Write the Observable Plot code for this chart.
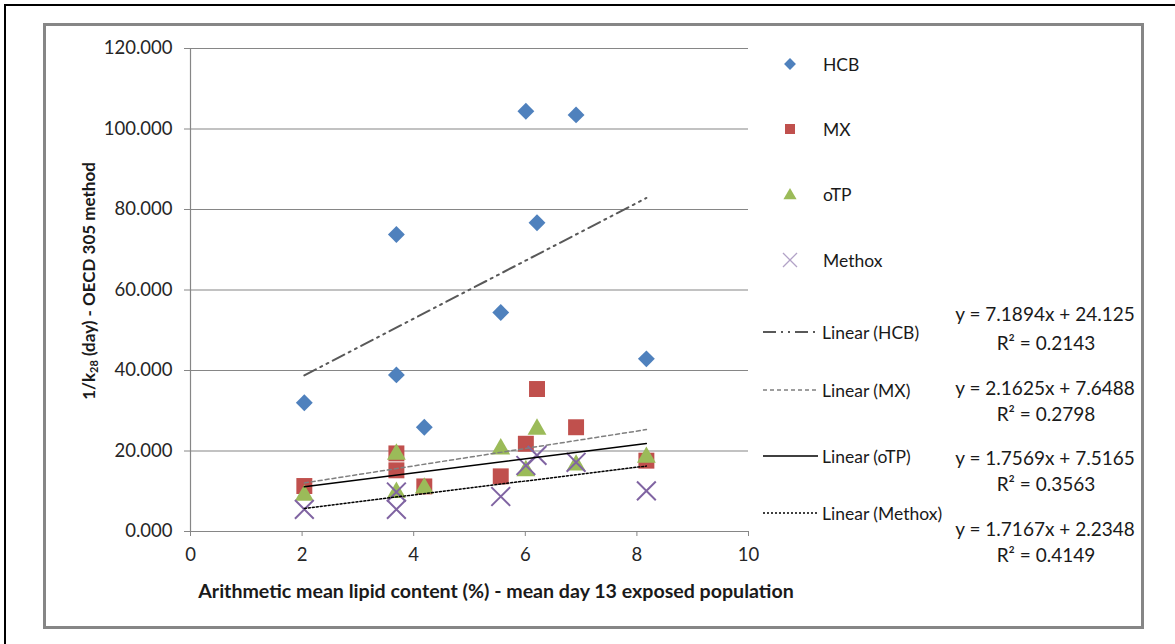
<!DOCTYPE html>
<html>
<head>
<meta charset="utf-8">
<script src="https://cdn.jsdelivr.net/npm/d3@7"></script>
<script src="https://cdn.jsdelivr.net/npm/@observablehq/plot@0.6"></script>
<style>
  body { margin: 0; background: #fff; font-family: Lato, "Open Sans", sans-serif; color: #1a1a1a; }
  #wrap { position: relative; width: 1175px; height: 644px; overflow: hidden; background: #fff; }
  .outer { position: absolute; left: 4px; top: 4px; width: 1400px; height: 900px; border-left: 2px solid #000; border-top: 2px solid #000; }
  .inner { position: absolute; left: 43px; top: 23px; width: 1101px; height: 606px; box-sizing: border-box; border: 3px solid #868686; }
  #chart { position: absolute; left: 0; top: 0; }
  .abs { position: absolute; white-space: nowrap; }
  .lg { font-size: 17.5px; transform: translateY(-50%); }
  .eq { font-size: 19px; transform: translate(-50%, -50%); text-align: center; }
  .ytitle { font-weight: bold; font-size: 17px; transform: translate(-50%, -50%) rotate(-90deg); }
  .ytitle sub { font-size: 11px; vertical-align: -3px; }
  .xtitle { font-weight: bold; font-size: 19.6px; transform: translate(-50%, -50%); }
</style>
</head>
<body>
<div id="wrap">
  <div class="outer"></div>
  <div class="inner"></div>
  <div id="chart"></div>
</div>
<script>
// Arithmetic mean lipid content (%) of each sample
const lipid = [2.04, 3.69, 3.69, 4.19, 5.56, 6.01, 6.21, 6.91, 8.17];

// 1/k28 (day) per substance, same order as lipid
const hcb    = [32.0, 73.8, 38.9, 25.9, 54.4, 104.4, 76.7, 103.5, 42.9];
const mx     = [11.3, 19.4, 15.2, 11.2, 13.7, 21.8, 35.4, 25.9, 17.6];
const otp    = [9.5, 19.7, 10.2, 11.3, 21.0, 15.6, 25.9, 17.0, 18.9];
const methox = [5.5, 9.8, 5.5, null, 8.7, 16.4, 18.9, 17.2, 10.1];

// Linear fits: slope, intercept, R²
const seriesNames = ["HCB", "MX", "oTP", "Methox"];
const slopes      = [7.1894, 2.1625, 1.7569, 1.7167];
const intercepts  = [24.125, 7.6488, 7.5165, 2.2348];
const r2          = [0.2143, 0.2798, 0.3563, 0.4149];

const yTicks = [0, 20, 40, 60, 80, 100, 120];
const xTicks = [0, 2, 4, 6, 8, 10];

const colors = { HCB: "#4F81BD", MX: "#C0504D", oTP: "#9BBB59", Methox: "#8064A2" };
const valuesBy = { HCB: hcb, MX: mx, oTP: otp, Methox: methox };
const trendStyle = {
  HCB:    { stroke: "#595959", strokeWidth: 2,   strokeDasharray: "13,5,2,5,2,5" },
  MX:     { stroke: "#7f7f7f", strokeWidth: 1.5, strokeDasharray: "4,3" },
  oTP:    { stroke: "#000000", strokeWidth: 1.5, strokeDasharray: null },
  Methox: { stroke: "#000000", strokeWidth: 1.5, strokeDasharray: "2,2" }
};

const pts = name => lipid.map((x, i) => ({ x, y: valuesBy[name][i] })).filter(d => d.y != null);

const trend = (name, i) => {
  const xs = pts(name).map(d => d.x);
  const [x0, x1] = d3.extent(xs);
  return [x0, x1].map(x => ({ x, y: slopes[i] * x + intercepts[i] }));
};

const plot = Plot.plot({
  width: 1175,
  height: 644,
  marginLeft: 190,
  marginRight: 427,
  marginTop: 48,
  marginBottom: 113,
  style: { background: "transparent", fontFamily: "Lato, 'Open Sans', sans-serif" },
  x: { domain: [0, 10] },
  y: { domain: [0, 120] },
  marks: [
    Plot.gridY(yTicks.filter(t => t > 0), { stroke: "#868686", strokeOpacity: 1, strokeWidth: 1.2 }),
    Plot.ruleX([0], { stroke: "#868686", strokeWidth: 1.2 }),
    Plot.ruleY([0], { stroke: "#868686", strokeWidth: 1.2 }),
    Plot.axisY(yTicks, {
      tickFormat: d3.format(".3f"), tickSize: 6, tickPadding: 12,
      stroke: "#868686", fill: "#262626", fontSize: 18.5, label: null
    }),
    Plot.axisX(xTicks, {
      tickSize: 5, tickPadding: 11,
      stroke: "#868686", fill: "#262626", fontSize: 18.5, label: null
    }),
    Plot.dot(pts("HCB"),    { x: "x", y: "y", symbol: "diamond2", r: 7.6, fill: colors.HCB, stroke: "none" }),
    Plot.dot(pts("MX"),     { x: "x", y: "y", symbol: "square",   r: 9,   fill: colors.MX,  stroke: "none" }),
    Plot.dot(pts("oTP"),    { x: "x", y: "y", symbol: "triangle", r: 7,   fill: colors.oTP, stroke: "none", dy: 2 }),
    Plot.dot(pts("Methox"), { x: "x", y: "y", symbol: "times",    r: 8.6, stroke: colors.Methox, strokeWidth: 2, fill: "none" }),
    ...seriesNames.map((n, i) => Plot.line(trend(n, i), { x: "x", y: "y", ...trendStyle[n] }))
  ]
});
document.getElementById("chart").appendChild(plot);

// Legend, axis titles and fit equations
const wrap = d3.select("#wrap");

wrap.append("div").attr("class", "abs ytitle").style("left", "89px").style("top", "281px")
  .html("1/k<sub>28</sub> (day) - OECD 305 method");
wrap.append("div").attr("class", "abs xtitle").style("left", "496px").style("top", "590px")
  .text("Arithmetic mean lipid content (%) - mean day 13 exposed population");

const markerSymbol = { HCB: d3.symbolDiamond2, MX: d3.symbolSquare, oTP: d3.symbolTriangle, Methox: d3.symbolTimes };
const markerSize = { HCB: 90, MX: 100, oTP: 75, Methox: 130 };
const legendY = [64, 129, 194, 260];
seriesNames.forEach((n, i) => {
  const svg = wrap.append("svg").attr("class", "abs").attr("width", 20).attr("height", 20)
    .style("left", "780px").style("top", (legendY[i] - 10) + "px");
  const p = svg.append("path").attr("transform", `translate(10,${n === "oTP" ? 11.5 : 10})`)
    .attr("d", d3.symbol(markerSymbol[n], markerSize[n])());
  if (n === "Methox") p.attr("fill", "none").attr("stroke", "#b2a2c7").attr("stroke-width", 1.3);
  else p.attr("fill", colors[n]);
  wrap.append("div").attr("class", "abs lg").style("left", "823px").style("top", legendY[i] + "px").text(n);
});

const trendLegendY = [332, 390, 456, 513];
const eqY = [[313, 342], [387, 413], [457, 483], [528, 554]];
seriesNames.forEach((n, i) => {
  const s = trendStyle[n];
  const svg = wrap.append("svg").attr("class", "abs").attr("width", 60).attr("height", 6)
    .style("left", "762px").style("top", (trendLegendY[i] - 3) + "px");
  svg.append("line").attr("x1", 1).attr("x2", 56).attr("y1", 3).attr("y2", 3)
    .attr("stroke", s.stroke).attr("stroke-width", s.strokeWidth)
    .attr("stroke-dasharray", s.strokeDasharray);
  wrap.append("div").attr("class", "abs lg").style("left", "822px").style("top", trendLegendY[i] + "px")
    .text(`Linear (${n})`);
  wrap.append("div").attr("class", "abs eq").style("left", "1045px").style("top", eqY[i][0] + "px")
    .text(`y = ${slopes[i].toFixed(4)}x + ${intercepts[i]}`);
  wrap.append("div").attr("class", "abs eq").style("left", "1046px").style("top", eqY[i][1] + "px")
    .text(`R² = ${r2[i].toFixed(4)}`);
});
</script>
</body>
</html>
